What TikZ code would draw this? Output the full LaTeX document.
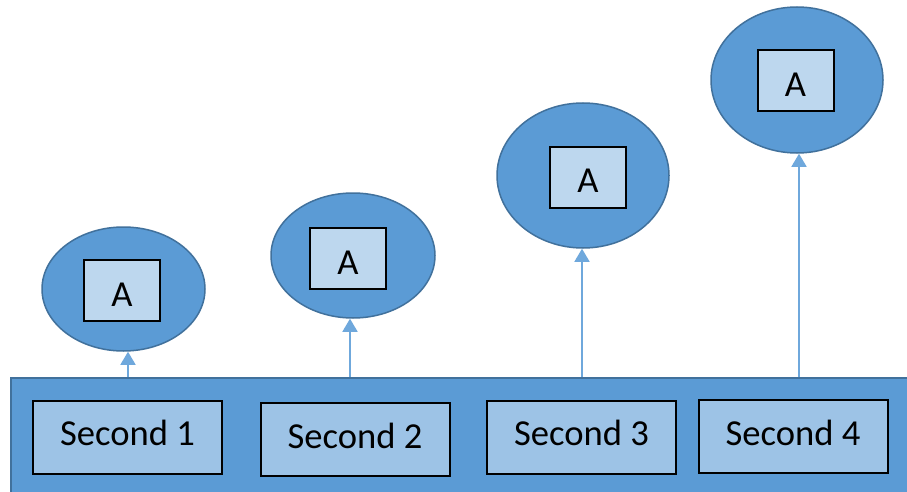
\documentclass[tikz,border=0pt]{standalone}
\usepackage{fontspec}
\setmainfont{Carlito}
\usetikzlibrary{shapes.geometric,arrows.meta}
\definecolor{midblue}{HTML}{5B9BD5}
\definecolor{edgeblue}{HTML}{41719C}
\definecolor{paleblue}{HTML}{BDD7EE}
\definecolor{boxblue}{HTML}{9DC3E6}
\definecolor{arrowblue}{HTML}{6FA8DC}
\tikzset{
  bubble/.style={ellipse, draw=edgeblue, fill=midblue, line width=1.5pt, inner sep=0pt},
  abox/.style={draw=black, fill=paleblue, line width=2pt, minimum width=76pt, minimum height=61pt, inner sep=0pt, text height=31pt, text depth=0pt, font=\fontsize{36.6}{40}\selectfont},
  secbox/.style={draw=black, fill=boxblue, line width=2pt, minimum width=189pt, minimum height=73pt, inner sep=0pt, text height=17pt, text depth=0pt, font=\fontsize{36.6}{40}\selectfont},
  uparrow/.style={draw=arrowblue, line width=1.5pt, -{Triangle[width=15pt,length=13pt]}},
}
\begin{document}
\begin{tikzpicture}[x=1pt,y=-1pt]
\clip (0,0) rectangle (907,492);
\fill[white] (0,0) rectangle (907,492);
% bar
\node[draw=edgeblue, fill=midblue, line width=1.5pt, minimum width=920pt, minimum height=130pt, inner sep=0pt, anchor=north west] (bar) at (10,377) {};
% second boxes
\node[secbox] (s1) at (127.5,437) {Second 1};
\node[secbox] (s2) at (355,439.5) {Second 2};
\node[secbox] (s3) at (581.5,437) {Second 3};
\node[secbox] (s4) at (793,436.5) {Second 4};
% ellipses
\node[bubble, minimum width=163pt, minimum height=124pt] (e1) at (123.5,289) {};
\node[bubble, minimum width=164pt, minimum height=125pt] (e2) at (353,255.5) {};
\node[bubble, minimum width=172pt, minimum height=145pt] (e3) at (583,175.5) {};
\node[bubble, minimum width=172pt, minimum height=146pt] (e4) at (797,80) {};
% inner boxes
\node[abox] (a1) at (122,290.5) {A};
\node[abox] (a2) at (348,258.5) {A};
\node[abox] (a3) at (588,177) {A};
\node[abox] (a4) at (795.5,81) {A};
% arrow bases
\coordinate (b1) at (128,377);
\coordinate (b2) at (350,377);
\coordinate (b3) at (582,377);
\coordinate (b4) at (799,377);
\draw[uparrow] (b1) -- (b1 |- e1.south);
\draw[uparrow] (b2) -- (b2 |- e2.south);
\draw[uparrow] (b3) -- (b3 |- e3.south);
\draw[uparrow] (b4) -- (b4 |- e4.south);
\end{tikzpicture}
\end{document}
